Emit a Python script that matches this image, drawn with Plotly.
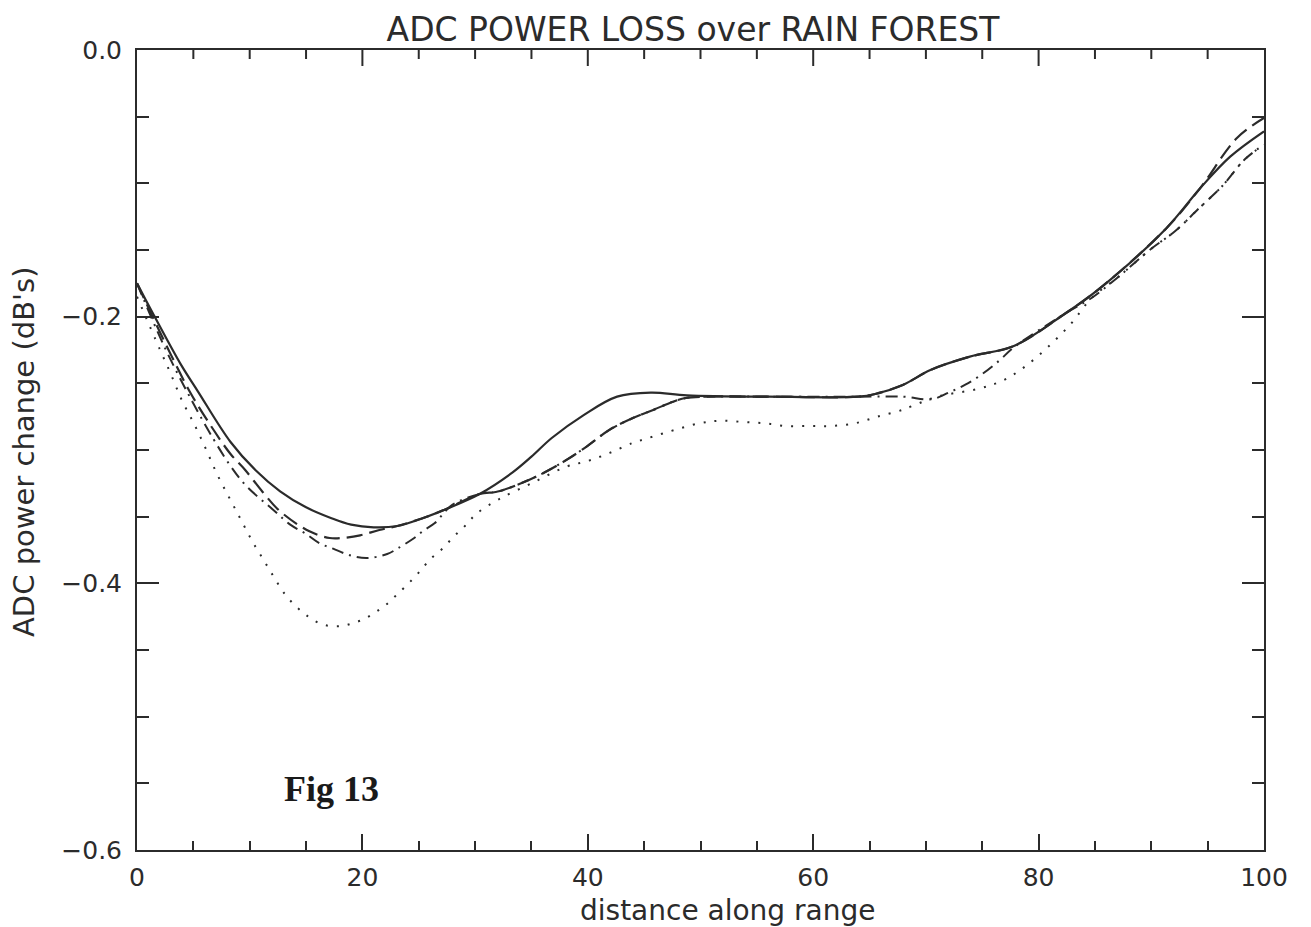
import plotly.graph_objects as go

# ---- data ----
solid_x = [0, 1.5, 3.9, 5.4, 8.3, 10.5, 12.7, 15, 17.2, 19, 21, 23.1, 25.4, 27.5, 30.4, 33.3, 35,
           36.8, 39.6, 42.6, 45.6, 48.8, 56, 64, 65.5, 68, 70.4, 73.9, 77.8, 82.3, 85.4, 91.3,
           94.3, 97, 100]
solid_y = [-0.175, -0.199, -0.236, -0.256, -0.294, -0.315, -0.331, -0.343, -0.351, -0.356, -0.358,
           -0.357, -0.351, -0.344, -0.333, -0.317, -0.305, -0.291, -0.274, -0.260, -0.257, -0.259,
           -0.260, -0.260, -0.258, -0.251, -0.240, -0.230, -0.222, -0.198, -0.179, -0.134, -0.104,
           -0.080, -0.061]

dash_x = [0, 2.4, 4.8, 6.8, 8.3, 9.6, 11.2, 12.7, 15.3, 17.1, 18.2, 19.8, 21.5, 23.1, 25.4, 27.5,
          30.4, 32.1, 35.4, 38, 39.8, 41.9, 44, 45.8, 47.5, 48.7, 50.5, 56, 64, 65.5, 68, 70.4,
          73.9, 77.8, 82.3, 85.4, 91.3, 94.3, 97.6, 100]
dash_y = [-0.175, -0.218, -0.258, -0.285, -0.303, -0.315, -0.332, -0.346, -0.361, -0.366, -0.366,
          -0.364, -0.360, -0.357, -0.351, -0.344, -0.333, -0.331, -0.320, -0.308, -0.298, -0.285,
          -0.276, -0.270, -0.264, -0.261, -0.260, -0.260, -0.260, -0.258, -0.251, -0.240, -0.230,
          -0.222, -0.198, -0.179, -0.134, -0.104, -0.066, -0.051]

dashdot_x = [0, 2.4, 4.8, 6.8, 8.3, 9.7, 12.1, 13.6, 15, 16.2, 17.4, 18.9, 20.4, 22.2, 23.1, 24.6,
             25.5, 26.4, 28, 30.4, 32.1, 35.4, 38, 39.8, 41.9, 44, 45.8, 47.5, 48.7, 50.5, 56, 64,
             68, 70.5, 72, 73.5, 75, 76.5, 77.8, 82.3, 84.7, 87.1, 90, 92.1, 94.2, 96.3, 98.3, 100]
dashdot_y = [-0.175, -0.222, -0.262, -0.292, -0.312, -0.327, -0.345, -0.356, -0.363, -0.370, -0.374,
             -0.379, -0.381, -0.378, -0.374, -0.366, -0.360, -0.355, -0.341, -0.333, -0.331, -0.320,
             -0.308, -0.298, -0.285, -0.276, -0.270, -0.264, -0.261, -0.260, -0.260, -0.260, -0.260,
             -0.262, -0.257, -0.251, -0.243, -0.233, -0.223, -0.198, -0.186, -0.170, -0.149, -0.136,
             -0.119, -0.102, -0.082, -0.071]

dot_x = [0, 2, 3, 4, 5.1, 6.1, 7.1, 8.2, 9.2, 10.2, 11.2, 12.2, 13.2, 14.2, 15.2, 16.2, 17.1, 18.2,
         19.1, 20.1, 21.1, 22.1, 23, 24.1, 25.1, 26, 27.1, 28.1, 29.1, 30.1, 32.1, 35, 38.1, 40.1,
         42, 43.9, 45, 46.9, 49.9, 51.8, 53.8, 55.7, 57.6, 59.7, 61.6, 63.7, 65.7, 67.9, 68.8, 71,
         74.7, 76.8, 78.7, 80.8, 82.9, 84.7, 87.1, 90, 92.1, 94.2, 96.3, 98.3, 100]
dot_y = [-0.185, -0.224, -0.243, -0.263, -0.281, -0.299, -0.318, -0.336, -0.352, -0.368, -0.382,
         -0.396, -0.409, -0.418, -0.425, -0.430, -0.432, -0.432, -0.430, -0.427, -0.422, -0.416,
         -0.409, -0.400, -0.391, -0.382, -0.374, -0.365, -0.357, -0.348, -0.337, -0.325, -0.3125,
         -0.308, -0.302, -0.295, -0.292, -0.287, -0.280, -0.278, -0.279, -0.280, -0.282, -0.282,
         -0.282, -0.280, -0.275, -0.270, -0.267, -0.260, -0.254, -0.248, -0.238, -0.223, -0.205,
         -0.186, -0.170, -0.149, -0.136, -0.119, -0.102, -0.082, -0.071]

# tick positions of the mirrored top edge (same as the bottom axis)
top_major_x = [20, 40, 60, 80]
top_minor_x = [5, 10, 15, 25, 30, 35, 45, 50, 55, 65, 70, 75, 85, 90, 95]

title_text = "ADC POWER LOSS over RAIN FOREST"
x_title = "distance along range"
y_title = "ADC power change (dB's)"
fig_label = "Fig 13"

INK = "#2b2b2b"
FONT = "DejaVu Sans"
SM = 1.0

L, R, T, B = 137, 1264, 50, 850
W, H = 1311, 927
pw, ph = R - L, B - T
Y_MIN, Y_MAX = -0.6, 0.0
units_per_px = (Y_MAX - Y_MIN) / ph

# top ticks hang down from the top edge: marker centred half a tick-length below it
MAJ_LEN, MIN_LEN = 16, 9
maj_y = Y_MAX - (MAJ_LEN / 2) * units_per_px
min_y = Y_MAX - (MIN_LEN / 2) * units_per_px

fig = go.Figure()
fig.add_trace(go.Scatter(x=dot_x, y=dot_y, mode="lines", hoverinfo="skip",
                         line=dict(color=INK, width=2, dash="2px,9px", shape="spline", smoothing=SM)))
fig.add_trace(go.Scatter(x=dashdot_x, y=dashdot_y, mode="lines", hoverinfo="skip",
                         line=dict(color=INK, width=2, dash="12px,6px,2px,6px", shape="spline", smoothing=SM)))
fig.add_trace(go.Scatter(x=dash_x, y=dash_y, mode="lines", hoverinfo="skip",
                         line=dict(color=INK, width=2.2, dash="16px,7px", shape="spline", smoothing=SM)))
fig.add_trace(go.Scatter(x=solid_x, y=solid_y, mode="lines", hoverinfo="skip",
                         line=dict(color=INK, width=2.2, shape="spline", smoothing=SM)))
fig.add_trace(go.Scatter(x=top_major_x, y=[maj_y] * len(top_major_x), mode="markers", hoverinfo="skip",
                         cliponaxis=False,
                         marker=dict(symbol="line-ns", size=MAJ_LEN / 1.4, color=INK,
                                     line=dict(width=2, color=INK))))
fig.add_trace(go.Scatter(x=top_minor_x, y=[min_y] * len(top_minor_x), mode="markers", hoverinfo="skip",
                         cliponaxis=False,
                         marker=dict(symbol="line-ns", size=MIN_LEN / 1.4, color=INK,
                                     line=dict(width=2, color=INK))))
# invisible trace that anchors the right-side tick axis
fig.add_trace(go.Scatter(x=[50], y=[-0.3], xaxis="x", yaxis="y2", mode="markers",
                         marker=dict(opacity=0), hoverinfo="skip"))

def px(xp):
    return (xp - L) / pw

def py(yp):
    return (B - yp) / ph

fig.update_layout(
    width=W, height=H,
    margin=dict(l=L, r=W - R, t=T, b=H - B, pad=0),
    paper_bgcolor="white", plot_bgcolor="white",
    showlegend=False,
    font=dict(family=FONT, color=INK, size=25),
    title=dict(text=title_text, x=px(693), xanchor="center", xref="paper",
               y=1 - 29 / H, yanchor="middle", yref="container",
               font=dict(family=FONT, size=33, color=INK)),
)

common_y = dict(range=[Y_MIN, Y_MAX], dtick=0.2, tick0=0, showgrid=False, zeroline=False,
                showline=True, linecolor=INK, linewidth=2,
                ticks="inside", ticklen=22, tickwidth=2, tickcolor=INK,
                minor=dict(dtick=0.05, ticks="inside", ticklen=12, tickwidth=2, tickcolor=INK, showgrid=False))

fig.update_layout(
    xaxis=dict(range=[0, 100], dtick=20, tick0=0, showgrid=False, zeroline=False,
               ticks="inside", ticklen=MAJ_LEN, tickwidth=2, tickcolor=INK,
               showline=True, linecolor=INK, linewidth=2, mirror=True,
               minor=dict(dtick=5, ticks="inside", ticklen=MIN_LEN, tickwidth=2, tickcolor=INK, showgrid=False),
               tickformat="d", tickfont=dict(family=FONT, size=25, color=INK),
               ticklabelstandoff=4),
    yaxis=dict(**common_y, tickformat=".1f",
               tickfont=dict(family=FONT, size=25, color=INK), ticklabelstandoff=8),
    yaxis2=dict(**common_y, overlaying="y", side="right", anchor="x",
                showticklabels=False),
)

fig.add_annotation(text=x_title, xref="paper", yref="paper", x=px(727), y=py(910),
                   showarrow=False, xanchor="center", yanchor="middle",
                   font=dict(family=FONT, size=28, color=INK))
fig.add_annotation(text=y_title, xref="paper", yref="paper", x=px(24), y=py(452),
                   showarrow=False, xanchor="center", yanchor="middle", textangle=-90,
                   font=dict(family=FONT, size=29, color=INK))
fig.add_annotation(text="<b>" + fig_label + "</b>", xref="paper", yref="paper", x=px(331), y=py(789),
                   showarrow=False, xanchor="center", yanchor="middle",
                   font=dict(family="Liberation Serif", size=36, color="#1a1a1a"))

fig.write_html("out.html")
